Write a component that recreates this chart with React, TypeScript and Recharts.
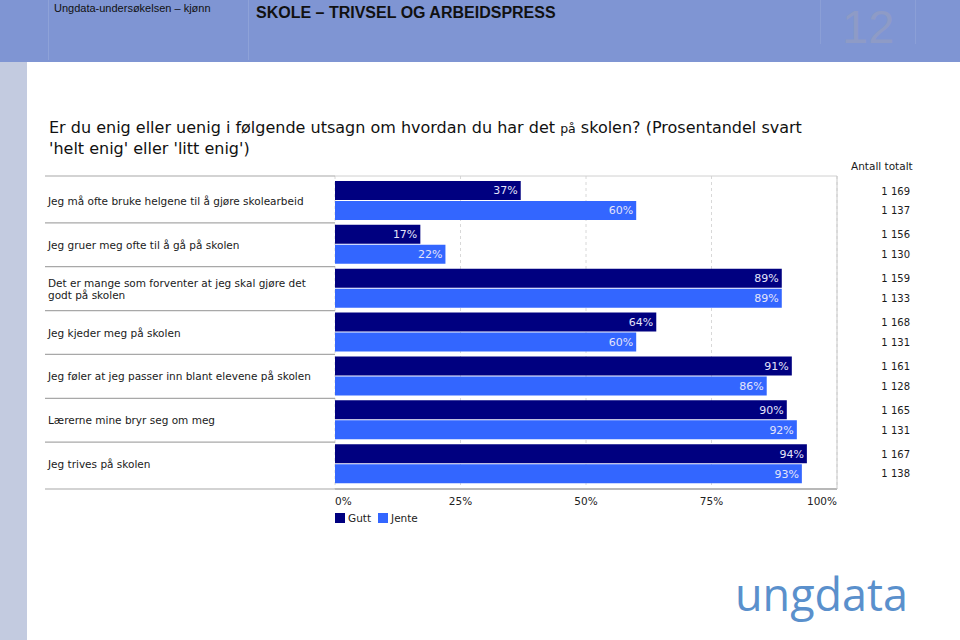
import React from 'react';
import {
  BarChart,
  Bar,
  XAxis,
  YAxis,
  CartesianGrid,
  LabelList,
  Legend,
} from 'recharts';

const categories = [
  'Jeg må ofte bruke helgene til å gjøre skolearbeid',
  'Jeg gruer meg ofte til å gå på skolen',
  'Det er mange som forventer at jeg skal gjøre det\ngodt på skolen',
  'Jeg kjeder meg på skolen',
  'Jeg føler at jeg passer inn blant elevene på skolen',
  'Lærerne mine bryr seg om meg',
  'Jeg trives på skolen',
];
const gutt = [37, 17, 89, 64, 91, 90, 94];
const jente = [60, 22, 89, 60, 86, 92, 93];
const antallGutt = [1169, 1156, 1159, 1168, 1161, 1165, 1167];
const antallJente = [1137, 1130, 1133, 1131, 1128, 1131, 1138];
const xTicks = [0, 25, 50, 75, 100];

const data = categories.map((name, i) => ({
  name,
  idx: i,
  gutt: gutt[i],
  jente: jente[i],
}));

const FONT = '"DejaVu Sans", Verdana, sans-serif';
const PAD = 3;

const fmtN = (n: number) => {
  const s = String(n);
  return s.slice(0, s.length - 3) + ' ' + s.slice(s.length - 3);
};

const LeftTick = (props: any) => {
  const { x, y, payload, index } = props;
  const half = payload.offset ?? 0;
  const lines = String(payload.value).split('\n');
  const lh = 12;
  const startY = y - ((lines.length - 1) * lh) / 2;
  return (
    <g>
      <line
        x1={x - 290}
        x2={x}
        y1={y - half - (index === 0 ? PAD : 0)}
        y2={y - half - (index === 0 ? PAD : 0)}
        stroke="#a8a8a8"
        strokeWidth={1.2}
      />
      {index === categories.length - 1 && (
        <line
          x1={x - 290}
          x2={x}
          y1={y + half + PAD}
          y2={y + half + PAD}
          stroke="#a8a8a8"
          strokeWidth={1.2}
        />
      )}
      <text
        x={x - 287}
        y={startY}
        fontSize={10.5}
        fontFamily={FONT}
        fill="#1a1a1a"
        dominantBaseline="central"
      >
        {lines.map((l, k) => (
          <tspan key={k} x={x - 287} y={startY + k * lh}>
            {l}
          </tspan>
        ))}
      </text>
    </g>
  );
};

const RightTick = (props: any) => {
  const { x, y, payload, index } = props;
  const half = payload.offset ?? 0;
  const d = half * 0.45;
  return (
    <g fontSize={10} fontFamily={FONT} fill="#1a1a1a">
      <text x={x + 73} y={y - d} textAnchor="end" dominantBaseline="central">
        {fmtN(antallGutt[index])}
      </text>
      <text x={x + 73} y={y + d} textAnchor="end" dominantBaseline="central">
        {fmtN(antallJente[index])}
      </text>
    </g>
  );
};

const BottomTick = (props: any) => {
  const { x, y, payload, index } = props;
  const anchor =
    index === 0 ? 'start' : index === xTicks.length - 1 ? 'end' : 'middle';
  return (
    <text
      x={x}
      y={y + 12}
      textAnchor={anchor}
      fontSize={10.5}
      fontFamily={FONT}
      fill="#222"
      dominantBaseline="central"
    >
      {payload.value}%
    </text>
  );
};

const LegendContent = (props: any) => {
  const { payload } = props;
  return (
    <div style={{ display: 'flex', fontFamily: FONT, fontSize: 10.5, color: '#222' }}>
      {(payload || []).map((p: any, i: number) => (
        <div key={i} style={{ display: 'flex', alignItems: 'center', marginRight: 7 }}>
          <span
            style={{
              display: 'inline-block',
              width: 10,
              height: 10,
              background: p.color,
              marginRight: 3,
            }}
          />
          <span>{p.value}</span>
        </div>
      ))}
    </div>
  );
};

export default function App() {
  return (
    <div
      style={{
        position: 'absolute',
        left: 0,
        top: 0,
        width: 960,
        height: 640,
        background: '#fff',
        overflow: 'hidden',
        fontFamily: FONT,
      }}
    >
      {/* header */}
      <div
        style={{
          position: 'absolute',
          left: 0,
          top: 0,
          width: 960,
          height: 62,
          background: '#7f95d3',
        }}
      >
        <div style={{ position: 'absolute', left: 48, top: 0, width: 1, height: 60, background: '#8ea2d8' }} />
        <div style={{ position: 'absolute', left: 248, top: 0, width: 1, height: 60, background: '#8ea2d8' }} />
        <div style={{ position: 'absolute', left: 820, top: 0, width: 1, height: 44, background: '#8b9fd6' }} />
        <div style={{ position: 'absolute', left: 915, top: 0, width: 1, height: 44, background: '#8b9fd6' }} />
        <div
          style={{
            position: 'absolute',
            left: 54,
            top: 2,
            fontFamily: '"Liberation Sans", Arial, sans-serif',
            fontSize: 11,
            color: '#111',
          }}
        >
          Ungdata-undersøkelsen – kjønn
        </div>
        <div
          style={{
            position: 'absolute',
            left: 256,
            top: 4,
            fontFamily: '"Liberation Sans", Arial, sans-serif',
            fontSize: 16,
            fontWeight: 'bold',
            color: '#111',
          }}
        >
          SKOLE – TRIVSEL OG ARBEIDSPRESS
        </div>
        <svg
          style={{ position: 'absolute', left: 0, top: 0 }}
          width={960}
          height={62}
        >
          <text
            x={842}
            y={43}
            fontFamily='"Liberation Sans", Arial, sans-serif'
            fontSize={47}
            fill="#8e9bc6"
          >
            12
          </text>
        </svg>
      </div>
      {/* sidebar */}
      <div
        style={{
          position: 'absolute',
          left: 0,
          top: 62,
          width: 27,
          height: 578,
          background: '#c3cbe0',
        }}
      />
      {/* title */}
      <div
        style={{
          position: 'absolute',
          left: 49,
          top: 118,
          fontFamily: FONT,
          fontSize: 16,
          lineHeight: '20px',
          color: '#111',
          whiteSpace: 'nowrap',
        }}
      >
        Er du enig eller uenig i følgende utsagn om hvordan du har det{' '}
        <span style={{ fontSize: 12.5 }}>på</span> skolen? (Prosentandel svart
        <br />
        'helt enig' eller 'litt enig')
      </div>
      <div
        style={{
          position: 'absolute',
          left: 851,
          top: 160,
          fontFamily: FONT,
          fontSize: 10.5,
          color: '#1a1a1a',
          whiteSpace: 'nowrap',
        }}
      >
        Antall totalt
      </div>
      {/* chart */}
      <div style={{ position: 'absolute', left: 0, top: 0 }}>
        <BarChart
          width={960}
          height={640}
          data={data}
          layout="vertical"
          margin={{ top: 175, right: 0, bottom: 121, left: 0 }}
          barCategoryGap={2}
          barGap={1}
        >
          <CartesianGrid
            horizontal={false}
            strokeDasharray="3 3"
            stroke="#d8d8d8"
          />
          <XAxis
            type="number"
            domain={[0, 100]}
            ticks={xTicks}
            interval={0}
            height={30}
            tickSize={0}
            tickMargin={0}
            axisLine={{ stroke: '#b8b8b8', strokeWidth: 2 }}
            tick={<BottomTick />}
          />
          <XAxis
            xAxisId="top"
            orientation="top"
            type="number"
            domain={[0, 100]}
            height={1}
            tick={false}
            tickLine={false}
            axisLine={{ stroke: '#d0d0d0' }}
          />
          <YAxis
            type="category"
            dataKey="name"
            width={335}
            tickSize={0}
            tickMargin={0}
            axisLine={false}
            interval={0}
            padding={{ top: PAD, bottom: PAD }}
            tick={<LeftTick />}
          />
          <YAxis
            yAxisId="right"
            orientation="right"
            type="category"
            dataKey="name"
            width={123}
            tickSize={0}
            tickMargin={0}
            interval={0}
            padding={{ top: PAD, bottom: PAD }}
            axisLine={{ stroke: '#c8c8c8' }}
            tick={<RightTick />}
          />
          <Bar dataKey="gutt" name="Gutt" fill="#000080" isAnimationActive={false}>
            <LabelList
              dataKey="gutt"
              position="insideRight"
              offset={3}
              fill="#e4e4fa"
              fontSize={11}
              fontFamily={FONT}
              formatter={(v: any) => `${v}%`}
            />
          </Bar>
          <Bar dataKey="jente" name="Jente" fill="#3366ff" isAnimationActive={false}>
            <LabelList
              dataKey="jente"
              position="insideRight"
              offset={3}
              fill="#e4e4fa"
              fontSize={11}
              fontFamily={FONT}
              formatter={(v: any) => `${v}%`}
            />
          </Bar>
          <Legend
            layout="horizontal"
            align="center"
            verticalAlign="middle"
            wrapperStyle={{ top: 512, left: 335, width: 200 }}
            content={<LegendContent />}
          />
        </BarChart>
      </div>
      {/* logo */}
      <svg
        style={{ position: 'absolute', left: 0, top: 0 }}
        width={960}
        height={640}
        pointerEvents="none"
      >
        <text
          x={735}
          y={611}
          fontFamily='"Open Sans", sans-serif'
          fontWeight={400}
          fontSize={46}
          fill="#5a90cc"
          textLength={173}
          lengthAdjust="spacingAndGlyphs"
        >
          ungdata
        </text>
      </svg>
    </div>
  );
}
